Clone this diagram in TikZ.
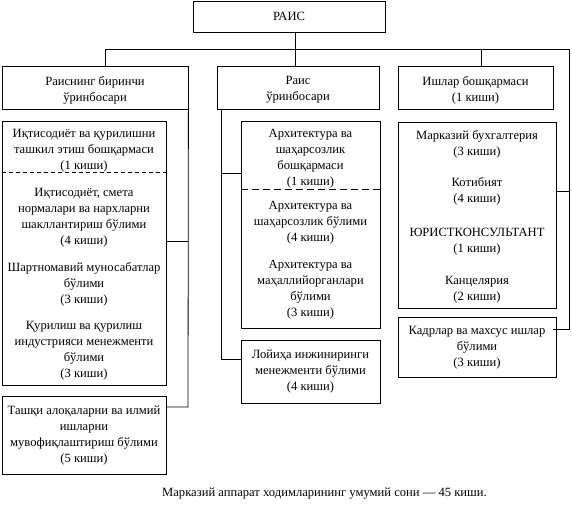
\documentclass[tikz,border=0pt]{standalone}
\usepackage{fontspec}
\setmainfont{Liberation Serif}
\usetikzlibrary{positioning}
\definecolor{ink}{HTML}{000000}
\tikzset{
  box/.style={draw=ink,line width=0.8pt,inner sep=0pt},
  txt/.style={align=center,inner sep=0pt,text=ink,font=\fontsize{12.6}{16}\selectfont},
  wire/.style={draw=ink,line width=0.8pt},
  cutl/.style={wire,dash pattern=on 4pt off 3pt},
  cutm/.style={wire,dash pattern=on 7pt off 4pt}
}
\newcommand{\ppl}[1]{(#1 киши)}

\begin{document}
\begin{tikzpicture}[x=1pt,y=-1pt]
\useasboundingbox (0,0) rectangle (572,523);
% ===================== top level =====================
\node[box,minimum width=192,minimum height=31] (rais) at (289,16.5) {};
\node[txt] (raist) at (289,16) {РАИС};
\node[box,minimum width=186,minimum height=43] (d1) at (95,87.5) {};
\node[txt] (d1t) at (95,90) {Раиснинг биринчи\\ўринбосари};
\node[box,minimum width=162,minimum height=43] (d2) at (298,87.5) {};
\node[txt] (d2t) at (298,90) {Раис\\ўринбосари};
\node[box,minimum width=155,minimum height=43] (d3) at (475.5,87.5) {};
\node[txt] (d3t) at (475.5,90) {Ишлар бошқармаси\\\ppl{1}};
% bus
\coordinate (busL) at (105,49);
\coordinate (busR) at (569,49);
\coordinate (jm) at (295,49);
\coordinate (jd3) at (481,49);
\coordinate (jr1) at (569,191);
\coordinate (jr2) at (569,329);
\draw[wire] (busL |- d1.north) -- (busL) -- (busR) -- (jr2) -- (jr2 -| d3.east);
\draw[wire] (rais.south -| jm) -- (d2.north -| jm);
\draw[wire] (jd3) -- (jd3 |- d3.north);
% ===================== left column =====================
\node[box,minimum width=164,minimum height=264] (b1) at (84,253) {};
\node[txt] (b1a) at (84,151) {Иқтисодиёт ва қурилишни\\ташкил этиш бошқармаси\\\ppl{1}};
\node[txt] (b1b) at (84,217.5) {Иқтисодиёт, смета\\нормалари ва нархларни\\шакллантириш бўлими\\\ppl{4}};
\node[txt] (b1c) at (84,284.5) {Шартномавий муносабатлар\\бўлими\\\ppl{3}};
\node[txt] (b1d) at (84,351) {Қурилиш ва қурилиш\\индустрияси менежменти\\бўлими\\\ppl{3}};
\draw[cutl] ([yshift=-52pt]b1.north west) -- ([yshift=-52pt]b1.north east);
\node[box,minimum width=164,minimum height=78] (b2) at (84,435) {};
\node[txt] (b2t) at (84,436) {Ташқи алоқаларни ва илмий\\ишларни\\мувофиқлаштириш бўлими\\\ppl{5}};
\coordinate (jl1) at (188,241);
\coordinate (jl2) at (188,407);
\draw[wire] (d1.south east) -- (jl2) -- (jl2 -| b2.east);
\draw[wire] (jl1) -- (jl1 -| b1.east);
% ===================== middle column =====================
\node[box,minimum width=139,minimum height=207] (m1) at (310.5,224.5) {};
\node[txt] (m1a) at (310.5,159) {Архитектура ва\\шаҳарсозлик\\бошқармаси\\\ppl{1}};
\node[txt] (m1b) at (310.5,223) {Архитектура ва\\шаҳарсозлик бўлими\\\ppl{4}};
\node[txt] (m1c) at (310.5,290) {Архитектура ва\\маҳаллийорганлари\\бўлими\\\ppl{3}};
\draw[cutm] ([yshift=-69pt]m1.north west) -- ([yshift=-69pt]m1.north east);
\node[box,minimum width=139,minimum height=63] (m2) at (310.5,371.5) {};
\node[txt] (m2t) at (310.5,372) {Лойиҳа инжиниринги\\менежменти бўлими\\\ppl{4}};
\coordinate (jm1) at (221,173);
\coordinate (jm2) at (221,359);
\draw[wire] (d2.south -| jm1) -- (jm2) -- (jm2 -| m2.west);
\draw[wire] (jm1) -- (jm1 -| m1.west);
% ===================== right column =====================
\node[box,minimum width=158,minimum height=186] (r1) at (477,215) {};
\node[txt] (r1a) at (477,144.5) {Марказий бухгалтерия\\\ppl{3}};
\node[txt] (r1b) at (477,191) {Котибият\\\ppl{4}};
\node[txt] (r1c) at (477,241.5) {ЮРИСТКОНСУЛЬТАНТ\\\ppl{1}};
\node[txt] (r1d) at (477,289.5) {Канцелярия\\\ppl{2}};
\node[box,minimum width=158,minimum height=60] (r2) at (477,347) {};
\node[txt] (r2t) at (477,347.5) {Кадрлар ва махсус ишлар\\бўлими\\\ppl{3}};
\draw[wire] (jr1) -- (jr1 -| r1.east);
% footer
\node[txt] (total) at (324.5,494) {Марказий аппарат ходимларининг умумий сони — 45 киши.};
\end{tikzpicture}
\end{document}
